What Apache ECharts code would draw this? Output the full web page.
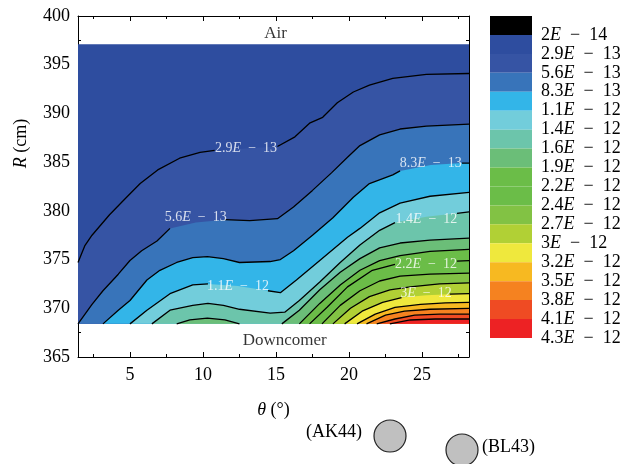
<!DOCTYPE html>
<html><head><meta charset="utf-8">
<script src="https://cdn.jsdelivr.net/npm/echarts@6/dist/echarts.min.js"></script>
<style>html,body{margin:0;padding:0;background:#fff}#c{width:627px;height:464px}</style>
</head><body><div id="c"></div>
<script>
// ---- axis ranges and ticks ----
const thetaMin = 1.44, thetaMax = 28.22;
const rMin = 365, rMax = 400;
const rBottom = 368.4, rTop = 397.1;
const xTicks = [5, 10, 15, 20, 25];
const xMinorTicks = [2.5, 7.5, 12.5, 17.5, 22.5, 27.5];

// ---- colour bar levels ----
const levels = ['2E − 14','2.9E − 13','5.6E − 13','8.3E − 13','1.1E − 12','1.4E − 12','1.6E − 12','1.9E − 12','2.2E − 12','2.4E − 12','2.7E − 12','3E − 12','3.2E − 12','3.5E − 12','3.8E − 12','4.1E − 12','4.3E − 12'];
const levelColors = ['#000000','#2e4d9f','#3654a4','#3874ba','#33b5e8','#72cddb','#6cc5ab','#6bbe78','#6bbd48','#6bbd48','#82c244','#b1d035','#efe83d','#f7b921','#f58220','#ef4b23','#ed2224'];

// ---- contour lines [theta, R] ----
const c1 = [[1.44,374.7],[1.9,376.4],[2.4,377.5],[3.6,379.6],[4.7,381.3],[5.7,382.8],[6.9,384.2],[8.4,385.4],[9.8,386.0],[10.8,386.2],[12.9,386.4],[15.1,386.6],[16.3,387.6],[17.3,389.0],[18.2,389.6],[19.2,391.1],[20.3,392.2],[21.4,392.9],[23.0,393.6],[25.3,394.0],[28.22,394.1]];
const c2 = [[1.44,368.4],[2.4,370.4],[3.15,371.8],[4.2,373.5],[5.0,374.9],[5.8,375.9],[6.85,376.9],[7.74,378.2],[9.5,378.8],[11.5,379.1],[13.2,379.0],[15.1,379.2],[16.2,380.4],[17.5,382.1],[18.8,383.9],[19.9,385.5],[20.75,386.7],[22.1,387.8],[23.5,388.4],[25.3,388.7],[28.22,388.9]];
const c3 = [[3.15,368.4],[4.2,369.8],[5.0,370.8],[6.16,372.9],[7.05,373.9],[8.2,374.7],[9.3,375.2],[10.3,375.3],[11.4,375.1],[12.5,374.7],[14.6,374.8],[15.3,375.0],[16.2,375.9],[17.5,377.5],[18.9,379.3],[20.3,381.4],[21.4,382.8],[23.0,383.7],[23.5,384.1],[25.6,384.7],[27.74,384.9],[28.22,384.9]];
const c4 = [[5.0,368.4],[6.16,369.8],[7.74,371.5],[9.3,372.4],[10.34,372.5],[12.4,372.3],[14.45,371.8],[15.3,371.6],[16.4,372.9],[18.0,374.9],[19.9,377.3],[20.75,378.2],[22.1,379.8],[23.5,380.8],[25.55,381.5],[28.22,381.9]];
const c5 = [[6.5,368.4],[7.74,369.8],[9.3,370.3],[10.34,370.5],[11.4,370.3],[12.5,369.9],[14.6,369.5],[15.6,369.6],[16.6,370.8],[18.0,372.7],[19.4,374.7],[20.75,376.5],[22.1,378.0],[23.15,378.8],[25.3,379.4],[27.4,379.75],[28.22,379.9]];
const c6Bump = [[8.2,368.4],[9.1,368.8],[10.3,369.0],[11.5,368.8],[12.5,368.4]];
const c6 = [[15.4,368.4],[16.6,369.8],[18.0,371.9],[19.4,373.7],[20.75,375.1],[22.1,376.2],[23.5,376.7],[25.55,377.0],[28.22,377.2]];
const c7 = [[16.6,368.4],[18.0,370.5],[19.4,372.4],[20.75,373.9],[22.1,374.9],[23.5,375.4],[25.55,375.85],[28.22,376.05]];
const c8 = [[17.3,368.4],[18.5,370.1],[19.9,372.2],[21.6,373.9],[23.15,374.5],[25.3,374.7],[27.4,374.85],[28.22,374.9]];
const c9 = [[18.15,368.4],[19.4,370.3],[20.75,371.8],[22.1,372.8],[23.5,373.3],[25.55,373.5],[28.22,373.6]];
const c10 = [[18.9,368.4],[20.1,370.0],[21.4,371.2],[22.8,371.9],[24.2,372.2],[26.2,372.5],[28.22,372.6]];
const c11 = [[19.7,368.4],[20.9,369.7],[22.3,370.6],[23.6,371.1],[25.3,371.35],[26.9,371.45],[28.22,371.5]];
const c12 = [[20.55,368.4],[21.8,369.4],[23.15,370.1],[24.9,370.4],[26.6,370.55],[28.22,370.6]];
const c13 = [[21.2,368.4],[22.5,369.3],[23.8,369.7],[25.55,369.9],[28.22,370.0]];
const c14 = [[21.9,368.4],[23.15,368.9],[24.5,369.3],[26.2,369.4],[28.22,369.4]];
const c15 = [[22.8,368.4],[24.2,368.8],[25.9,368.9],[28.22,368.9]];

const contours = [c1,c2,c3,c4,c5,c6Bump,c6,c7,c8,c9,c10,c11,c12,c13,c14,c15];
const contourLevel = [1,2,3,4,5,6,6,7,8,9,10,11,12,13,14,15];
const contourGaps = [[10.8,15.1],[7.74,11.5],[23.5,27.74],[10.34,14.45],[23.15,27.4],null,null,null,[23.15,27.4],null,null,[23.6,26.9],null,null,null,null];

// ---- contour labels ----
const contourLabelText = ['2.9E − 13','5.6E − 13','8.3E − 13','1.1E − 12','1.4E − 12','2.2E − 12','3E − 12'];
const contourLabelPos = [[12.95,386.4],[9.5,379.3],[25.6,384.9],[12.4,372.25],[25.3,379.1],[25.27,374.5],[25.27,371.5]];

// ---- region annotations ----
const regionText = ['Air','Downcomer'];
const regionPos = [[14.97,398.25],[15.6,366.7]];

const SERIF = "'Liberation Serif','DejaVu Serif',serif";
function sciRich(s){ const p = s.split('E'); return '{n|'+p[0]+'}{e|E}{n|'+p[1].replace(/ /g,'\u2002')+'}'; }
function withGap(pts, gap){
  if(!gap) return pts;
  const out=[]; let ins=false;
  for(const p of pts){
    if(p[0]>gap[0] && p[0]<gap[1]){ if(!ins){ out.push([p[0],'-']); ins=true; } continue; }
    out.push(p);
  }
  return out;
}

const series = [];
series.push({type:'line', xAxisIndex:0, yAxisIndex:0, data:[[thetaMin,rTop],[thetaMax,rTop]], symbol:'none', silent:true,
  lineStyle:{width:0}, areaStyle:{color:levelColors[1], opacity:1, origin:rBottom}, z:2});
contours.forEach((pts,i)=>{
  series.push({type:'line', xAxisIndex:0, yAxisIndex:0, data:pts, symbol:'none', silent:true,
    lineStyle:{width:0}, areaStyle:{color:levelColors[contourLevel[i]+1], opacity:1, origin:rBottom}, z:2});
});
contours.forEach((pts,i)=>{
  series.push({type:'line', xAxisIndex:0, yAxisIndex:0, data:withGap(pts, contourGaps[i]), symbol:'none', silent:true,
    connectNulls:false, lineStyle:{width:1.3, color:'#000'}, z:3});
});
series.push({type:'scatter', xAxisIndex:0, yAxisIndex:0, symbolSize:0, silent:true, z:4,
  data: contourLabelPos.map((p,i)=>[p[0],p[1],contourLabelText[i]]),
  label:{show:true, position:'inside', formatter:p=>sciRich(p.value[2]), color:'#fff',
    rich:{n:{fontFamily:SERIF,fontSize:14,color:'#fff'}, e:{fontFamily:SERIF,fontSize:14,fontStyle:'italic',color:'#fff'}}}});
series.push({type:'scatter', xAxisIndex:0, yAxisIndex:0, symbolSize:0, silent:true, z:4,
  data: regionPos.map((p,i)=>[p[0],p[1],regionText[i]]),
  label:{show:true, position:'inside', formatter:p=>p.value[2], color:'#000', fontFamily:SERIF, fontSize:17}});
series.push({type:'bar', xAxisIndex:4, yAxisIndex:2, barWidth:'100%', silent:true,
  data: levelColors.map(c=>({value:1, itemStyle:{color:c}}))});

const majorTick = {show:true, inside:true, length:5, lineStyle:{color:'#000', width:1}};
const minorTickS = {show:true, inside:true, length:3, lineStyle:{color:'#000', width:1}};
const lbl = {color:'#000', fontFamily:SERIF, fontSize:18};
const baseX = {gridIndex:0, type:'value', min:thetaMin, max:thetaMax, splitLine:{show:false}, axisLine:{show:true, lineStyle:{color:'#000', width:1}}};

const option = {
  backgroundColor:'#fff', animation:false,
  grid:[{left:78, top:16, width:391, height:341, containLabel:false},
        {left:490, top:16, width:42, height:322, containLabel:false}],
  xAxis:[
    Object.assign({}, baseX, {position:'bottom', axisTick:Object.assign({customValues:xTicks}, majorTick),
      axisLabel:Object.assign({customValues:xTicks, margin:9}, lbl),
      name:'{i|θ} (°)', nameLocation:'middle', nameGap:44,
      nameTextStyle:{color:'#000', fontFamily:SERIF, fontSize:18, rich:{i:{fontFamily:SERIF,fontSize:18,fontStyle:'italic',color:'#000'}}}}),
    Object.assign({}, baseX, {position:'bottom', axisLine:{show:false}, axisTick:Object.assign({customValues:xMinorTicks}, minorTickS), axisLabel:{show:false}}),
    Object.assign({}, baseX, {position:'top', axisTick:Object.assign({customValues:xTicks}, majorTick), axisLabel:{show:false}}),
    Object.assign({}, baseX, {position:'top', axisLine:{show:false}, axisTick:Object.assign({customValues:xMinorTicks}, minorTickS), axisLabel:{show:false}}),
    {gridIndex:1, type:'value', min:0, max:1, show:false}
  ],
  yAxis:[
    {gridIndex:0, type:'value', min:rMin, max:rMax, interval:5, position:'left', splitLine:{show:false},
      axisLine:{show:true, lineStyle:{color:'#000', width:1}}, axisTick:majorTick,
      minorTick:{show:true, splitNumber:2, length:3, lineStyle:{color:'#000', width:1}}, minorSplitLine:{show:false},
      axisLabel:Object.assign({margin:8}, lbl),
      name:'{i|R} (cm)', nameLocation:'middle', nameGap:48,
      nameTextStyle:{color:'#000', fontFamily:SERIF, fontSize:18, padding:[0,0,0,86], rich:{i:{fontFamily:SERIF,fontSize:18,fontStyle:'italic',color:'#000'}}}},
    {gridIndex:0, type:'value', min:rMin, max:rMax, interval:5, position:'right', splitLine:{show:false},
      axisLine:{show:true, lineStyle:{color:'#000', width:1}}, axisTick:majorTick,
      minorTick:{show:true, splitNumber:2, length:3, lineStyle:{color:'#000', width:1}}, axisLabel:{show:false}},
    {gridIndex:1, type:'category', data:levels, inverse:true, show:false},
    {gridIndex:1, type:'value', min:0, max:levels.length, interval:1, inverse:true, position:'right',
      axisLine:{show:false}, axisTick:{show:false}, splitLine:{show:false},
      axisLabel:{margin:9, formatter:v=>{const k=Math.round(v); return k>=1 ? sciRich(levels[k-1]) : '';},
        rich:{n:{fontFamily:SERIF,fontSize:18,color:'#000'}, e:{fontFamily:SERIF,fontSize:18,fontStyle:'italic',color:'#000'}}}}
  ],
  graphic:[
    {type:'text', left:306, top:423, style:{text:'(AK44)', font:"18px 'Liberation Serif'", fill:'#000'}},
    {type:'circle', shape:{cx:390, cy:436, r:16}, style:{fill:'#c0c0c0', stroke:'#222', lineWidth:1.2}},
    {type:'circle', shape:{cx:462, cy:450, r:16}, style:{fill:'#c0c0c0', stroke:'#222', lineWidth:1.2}},
    {type:'text', left:482, top:438, style:{text:'(BL43)', font:"18px 'Liberation Serif'", fill:'#000'}}
  ],
  series: series
};
const chart = echarts.init(document.getElementById('c'), null, {renderer:'canvas'});
chart.setOption(option);
</script></body></html>
